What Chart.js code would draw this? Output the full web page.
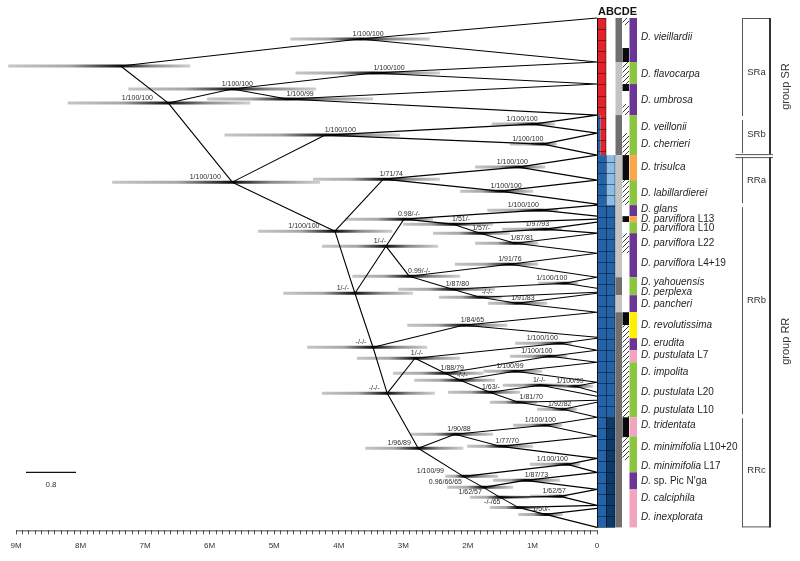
<!DOCTYPE html>
<html>
<head>
<meta charset="utf-8">
<script src="https://cdn.jsdelivr.net/npm/chart.js@4.4.1/dist/chart.umd.min.js"></script>
<style>
  html, body { margin: 0; padding: 0; background: #fff; }
  canvas { display: block; }
</style>
</head>
<body>
<canvas id="tree" width="800" height="561"></canvas>
<script>
// ---- data ----
// internal nodes: age (Ma), vertical row position, 95% HPD (old/young), support PP/ML/MP
const nodeIds  = ['root','vie','A','B','fla','umb','C','SRb','vei','che','RR','RRa','tri','lab','D','E','G','gla','I','J','p10','p22','H','p419','K','yah','Mm','pan','F','rev','M','L','eru','O','pu7','P','imp','Q','R','pu20','S','pu10','N','T','trd','m1020','U','m17','V','pic','W','cal','X','inx'];
const nodeAge  = [7.38,3.67,6.64,5.65,3.47,4.80,5.65,4.21,0.99,0.84,4.06,3.31,1.22,1.50,3.75,3.27,2.99,0.88,2.23,1.81,0.80,1.27,2.91,1.35,2.24,0.50,1.81,1.24,3.47,2.07,3.25,2.82,0.57,2.35,0.73,2.12,1.27,1.66,0.88,0.34,1.22,0.53,2.77,2.20,0.80,1.50,2.07,0.46,1.76,1.11,1.50,0.57,1.22,0.80];
const nodeRow  = [66,39,103,89,73,99,182,135,124,144,231,179,167,191,293,246,219,210,224,233,229,243,276,264,289,283,297,303,347,325,393,358,343,373,356,380,371,392,385,386,402,409,448,434,425,446,476,464,487,480,497,496,507,514];
const hpdOld   = [9.12,4.75,8.20,7.26,4.67,6.04,7.51,5.77,1.63,1.35,5.25,4.40,1.89,2.12,4.86,4.26,3.90,1.70,3.00,2.54,1.47,1.89,3.79,2.20,3.08,0.91,2.45,1.69,4.49,2.94,4.26,3.72,1.27,3.16,1.35,2.83,1.76,2.31,1.46,0.62,1.66,0.93,3.59,2.89,1.30,2.01,2.35,1.04,2.32,1.61,1.97,1.04,1.66,1.22];
const hpdYoung = [6.30,2.59,5.37,4.35,2.43,3.47,4.29,3.05,0.65,0.62,3.17,2.43,0.80,0.99,2.85,2.46,2.54,0.60,1.61,1.35,0.54,0.91,2.12,0.91,1.58,0.29,1.47,0.77,2.63,1.39,2.51,2.12,0.39,1.76,0.46,1.58,0.85,1.19,0.46,0.06,0.93,0.31,2.07,1.61,0.54,0.99,1.53,0.26,1.30,0.57,1.04,0.46,0.88,0.53];
const support  = ['','1/100/100','1/100/100','1/100/100','1/100/100','1/100/99','1/100/100','1/100/100','1/100/100','1/100/100','1/100/100','1/71/74','1/100/100','1/100/100','1/-/-','1/-/-','0.98/-/-','1/100/100','1/51/-','1/57/-','1/97/93','1/87/81','0.99/-/-','1/91/76','1/87/80','1/100/100','-/-/-','1/91/83','-/-/-','1/84/65','-/-/-','1/-/-','1/100/100','1/88/79','1/100/100','-/-/-','1/100/99','1/63/-','1/-/-','1/100/99','1/81/70','1/92/82','1/96/89','1/90/88','1/100/100','1/77/70','1/100/99','1/100/100','0.96/66/65','1/87/73','1/62/57','1/62/57','-/-/65','1/50/-'];

// branches between internal nodes
const branchParent = ['root','root','A','A','B','B','C','C','SRb','SRb','RR','RR','RRa','RRa','D','D','E','E','G','G','I','J','J','H','H','K','K','Mm','F','F','M','M','L','L','O','O','P','P','Q','Q','R','S','N','N','T','T','U','U','V','V','W','W','X'];
const branchChild  = ['vie','A','B','C','fla','umb','SRb','RR','vei','che','RRa','D','tri','lab','E','F','G','H','gla','I','J','p10','p22','p419','K','yah','Mm','pan','rev','M','L','N','eru','O','pu7','P','imp','Q','R','S','pu20','pu10','T','U','trd','m1020','m17','V','pic','W','cal','X','inx'];

// single-sample lineages reaching the present
const tipParent = ['I','Mm','R','S','X'];
const tipRow    = [219,292,396,400,505];

// collapsed species crowns (apex node, upper and lower tip rows at 0 Ma)
const cladeApex   = ['vie','fla','umb','vei','che','tri','lab','gla','p10','p22','p419','yah','pan','rev','eru','pu7','imp','pu20','pu10','trd','m1020','m17','pic','cal','inx'];
const cladeTop    = [18,62,84,115,133,155,180,205,222,233,253,277,293,312,338,350,362,382,402,417,436,458,472,489,508];
const cladeBottom = [62,84,115,133,155,180,204,216,233,253,277,288,312,337,350,362,382,392,417,436,458,472,489,505,527];

// taxa
const taxonName   = ['D. vieillardii','D. flavocarpa','D. umbrosa','D. veillonii','D. cherrieri','D. trisulca','D. labillardierei','D. glans','D. parviflora','D. parviflora','D. parviflora','D. parviflora','D. yahouensis','D. perplexa','D. pancheri','D. revolutissima','D. erudita','D. pustulata','D. impolita','D. pustulata','D. pustulata','D. tridentata','D. minimifolia','D. minimifolia','D.','D. calciphila','D. inexplorata'];
const taxonSuffix = ['','','','','','','','',' L13',' L10',' L22',' L4+19','','','','','',' L7','',' L20',' L10','',' L10+20',' L17',' sp. Pic N\'ga','',''];
const taxonRow    = [37,74,100,127,144,167,193,209,219,228,243,263,282,292,304,325,343,355,372,392,410,425,447,466,481,498,517];

// character columns A-E (segment start rows, state), all end at row 527
const columnEnd = 527;
const charAStart = [18,115,155];
const charAState = ['red','split','blue'];
const charBStart = [18,155,205,417];
const charBState = ['none','lightblue','blue','navy'];
const charCStart = [18,62,115,155,277,295,312];
const charCState = ['dark','light','dark','light','dark','light','dark'];
const charDStart = [18,25,48,62,84,91,104,115,133,155,180,205,216,222,233,253,312,325,417,437,460];
const charDState = ['hatch','white','black','hatch','black','white','hatch','white','hatch','black','hatch','white','black','white','hatch','white','black','hatch','black','hatch','white'];
const charEStart = [18,62,84,115,155,180,205,216,222,233,277,295,312,338,350,362,417,436,472,489];
const charEState = ['purple','green','purple','green','orange','green','purple','orange','green','purple','green','purple','yellow','purple','pink','green','pink','green','purple','pink'];

// groups
const subgroups      = ['SRa','SRb','RRa','RRb','RRc'];
const subgroupTop    = [18,118,155,205,416];
const subgroupLabel  = [72,134,180,300,470];
const groups         = ['group SR','group RR'];
const groupTop       = [18,155];
const groupBottom    = [155,527];

const axisMax = 9;          // Ma
const scaleBarText = '0.8';

// ---- styling ----
Chart.defaults.font.family = '"Liberation Sans", Arial, sans-serif';
const FONT = '"Liberation Sans", Arial, sans-serif';
const fills = {
  red: '#e3232b', blue: '#2463a8', lightblue: '#8cbde6', navy: '#0d3b69',
  dark: '#6f6f6f', light: '#c3c3c3', black: '#0a0a0a', white: '#ffffff',
  purple: '#6a3596', green: '#8cc63f', orange: '#f8a74a', yellow: '#fff200', pink: '#f4a4c0'
};
// horizontal nudge of each support label relative to its node (px)
const labelNudge = [0,8,-31,5,16,13,-27,15,-11,-15,-31,8,-6,6,-12,-6,5,-17,8,1,-8,7,10,0,5,-13,7,6,-12,9,-13,2,-18,7,-13,2,-5,1,-1,-5,13,-3,-19,4,-5,7,-33,-15,-38,11,-30,-6,-26,-4];

const idx = id => nodeIds.indexOf(id);

// tree branches as one dataset with gaps
const branchPts = [];
function seg(x1, y1, x2, y2) {
  branchPts.push({x: x1, y: y1}, {x: x2, y: y2}, {x: null, y: null});
}
branchParent.forEach((p, i) => {
  const a = idx(p), b = idx(branchChild[i]);
  seg(nodeAge[a], nodeRow[a], nodeAge[b], nodeRow[b]);
});
tipParent.forEach((p, i) => {
  const a = idx(p);
  seg(nodeAge[a], nodeRow[a], 0, tipRow[i]);
});
cladeApex.forEach((p, i) => {
  const a = idx(p);
  seg(nodeAge[a], nodeRow[a], 0, cladeTop[i]);
  seg(nodeAge[a], nodeRow[a], 0, cladeBottom[i]);
});

function hpdGradient(chart, i) {
  if (!chart.chartArea) return '#999';
  const sx = chart.scales.x;
  const a = sx.getPixelForValue(hpdOld[i]);
  const b = sx.getPixelForValue(hpdYoung[i]);
  const m = sx.getPixelForValue(nodeAge[i]);
  const g = chart.ctx.createLinearGradient(a, 0, b, 0);
  const f = Math.min(0.97, Math.max(0.03, (m - a) / (b - a)));
  g.addColorStop(0, '#c6c6c6');
  g.addColorStop(f * 0.55, '#a6a6a6');
  g.addColorStop(f, '#0d0d0d');
  g.addColorStop(f + (1 - f) * 0.45, '#8a8a8a');
  g.addColorStop(1, '#d0d0d0');
  return g;
}

const datasets = [{
  label: 'branches',
  data: branchPts,
  showLine: true,
  spanGaps: false,
  borderColor: '#000',
  borderWidth: 1.1,
  pointRadius: 0,
  order: 0
}];
nodeIds.forEach((id, i) => {
  datasets.push({
    label: 'hpd ' + id,
    data: [{x: hpdOld[i], y: nodeRow[i]}, {x: hpdYoung[i], y: nodeRow[i]}],
    showLine: true,
    borderWidth: 3,
    borderCapStyle: 'butt',
    borderColor: c => hpdGradient(c.chart, i),
    pointRadius: 0,
    order: 1
  });
});

let hatchPattern = null;
function getHatch(ctx) {
  if (hatchPattern) return hatchPattern;
  const c = document.createElement('canvas');
  c.width = 5; c.height = 5;
  const g = c.getContext('2d');
  g.fillStyle = '#fff'; g.fillRect(0, 0, 5, 5);
  g.strokeStyle = '#222'; g.lineWidth = 0.9;
  g.beginPath();
  g.moveTo(0, 5); g.lineTo(5, 0);
  g.moveTo(-1, 1); g.lineTo(1, -1);
  g.moveTo(4, 6); g.lineTo(6, 4);
  g.stroke();
  hatchPattern = ctx.createPattern(c, 'repeat');
  return hatchPattern;
}

function drawColumn(ctx, py, starts, states, x0, x1) {
  starts.forEach((s, i) => {
    const top = py(s);
    const bot = py(i + 1 < starts.length ? starts[i + 1] : columnEnd);
    const st = states[i];
    if (st === 'none') return;
    if (st === 'split') {
      ctx.fillStyle = fills.blue; ctx.fillRect(x0, top, 3.5, bot - top);
      ctx.fillStyle = fills.red; ctx.fillRect(x0 + 3.5, top, x1 - x0 - 3.5, bot - top);
      return;
    }
    ctx.fillStyle = st === 'hatch' ? getHatch(ctx) : fills[st];
    ctx.fillRect(x0, top, x1 - x0, bot - top);
  });
}

const annotate = {
  id: 'annotate',
  afterDatasetsDraw(chart) {
    const {ctx, scales: {x, y}, chartArea} = chart;
    const px = v => x.getPixelForValue(v);
    const py = r => y.getPixelForValue(r);
    const X0 = px(0);
    ctx.save();

    // support values
    ctx.font = '7px ' + FONT;
    ctx.fillStyle = '#2a2a2a';
    ctx.textAlign = 'center';
    ctx.textBaseline = 'alphabetic';
    support.forEach((s, i) => {
      if (!s) return;
      ctx.fillText(s, px(nodeAge[i]) + labelNudge[i], py(nodeRow[i]) - 3);
    });

    // character columns
    drawColumn(ctx, py, charAStart, charAState, X0, X0 + 9);
    drawColumn(ctx, py, charBStart, charBState, X0 + 9, X0 + 18);
    drawColumn(ctx, py, charCStart, charCState, X0 + 18.5, X0 + 25);
    drawColumn(ctx, py, charDStart, charDState, X0 + 25.5, X0 + 32);
    drawColumn(ctx, py, charEStart, charEState, X0 + 32.5, X0 + 40);

    // sample cells in A/B
    const top = py(18), bot = py(columnEnd), rr = py(155);
    const step = (bot - top) / 46;
    ctx.strokeStyle = 'rgba(0,0,0,0.55)';
    ctx.lineWidth = 0.8;
    ctx.beginPath();
    for (let k = 0; k <= 46; k++) {
      const yy = Math.round(top + k * step) + 0.5;
      ctx.moveTo(X0, yy);
      ctx.lineTo(yy > rr ? X0 + 18 : X0 + 9, yy);
    }
    ctx.moveTo(X0 + 9.5, rr); ctx.lineTo(X0 + 9.5, bot);
    ctx.moveTo(X0 + 18, rr); ctx.lineTo(X0 + 18, bot);
    ctx.moveTo(X0 + 9, top); ctx.lineTo(X0 + 9, rr);
    ctx.stroke();
    ctx.strokeStyle = '#111';
    ctx.lineWidth = 1;
    ctx.beginPath();
    ctx.moveTo(X0 + 0.5, top); ctx.lineTo(X0 + 0.5, bot);
    ctx.stroke();

    // header
    ctx.font = 'bold 11px ' + FONT;
    ctx.fillStyle = '#111';
    ctx.textAlign = 'center';
    ctx.textBaseline = 'middle';
    ctx.fillText('ABCDE', X0 + 20.5, py(12));

    // taxon names
    ctx.textAlign = 'left';
    ctx.fillStyle = '#1e1e1e';
    taxonName.forEach((n, i) => {
      const yy = py(taxonRow[i]);
      ctx.font = 'italic 10px ' + FONT;
      ctx.fillText(n, X0 + 44, yy);
      if (taxonSuffix[i]) {
        const w = ctx.measureText(n).width;
        ctx.font = '10px ' + FONT;
        ctx.fillText(taxonSuffix[i], X0 + 44 + w, yy);
      }
    });

    // group brackets
    const bx = X0 + 145.5, gx = X0 + 173;
    ctx.strokeStyle = '#555';
    ctx.lineWidth = 1;
    ctx.beginPath();
    subgroupTop.forEach((t, i) => {
      const end = i + 1 < subgroupTop.length ? subgroupTop[i + 1] : columnEnd;
      ctx.moveTo(bx, py(t) + (i ? 2 : 0));
      ctx.lineTo(bx, py(end) - (i + 1 < subgroupTop.length ? 2 : 0));
    });
    ctx.moveTo(bx, py(18) + 0.5); ctx.lineTo(gx, py(18) + 0.5);
    ctx.moveTo(bx, py(columnEnd) - 0.5); ctx.lineTo(gx, py(columnEnd) - 0.5);
    ctx.moveTo(bx - 7, py(154) + 0.5); ctx.lineTo(gx + 3, py(154) + 0.5);
    ctx.moveTo(bx - 7, py(157) + 0.5); ctx.lineTo(gx + 3, py(157) + 0.5);
    ctx.stroke();
    ctx.strokeStyle = '#333';
    ctx.lineWidth = 2;
    ctx.beginPath();
    groups.forEach((g, i) => {
      ctx.moveTo(gx, py(groupTop[i]) + (i ? 2 : 0));
      ctx.lineTo(gx, py(groupBottom[i]) - (i ? 0 : 1));
    });
    ctx.stroke();

    ctx.fillStyle = '#333';
    ctx.font = '9.5px ' + FONT;
    ctx.textAlign = 'center';
    subgroups.forEach((s, i) => ctx.fillText(s, bx + 14, py(subgroupLabel[i])));
    ctx.font = '11px ' + FONT;
    groups.forEach((g, i) => {
      ctx.save();
      ctx.translate(gx + 16, py((groupTop[i] + groupBottom[i]) / 2));
      ctx.rotate(-Math.PI / 2);
      ctx.fillText(g, 0, 0);
      ctx.restore();
    });

    // scale bar
    ctx.strokeStyle = '#111';
    ctx.lineWidth = 1.3;
    ctx.beginPath();
    ctx.moveTo(26, py(472)); ctx.lineTo(76, py(472));
    ctx.stroke();
    ctx.font = '8px ' + FONT;
    ctx.fillStyle = '#333';
    ctx.fillText(scaleBarText, 51, py(484));

    // time axis line
    ctx.strokeStyle = '#444';
    ctx.lineWidth = 1;
    ctx.beginPath();
    ctx.moveTo(px(axisMax), chartArea.bottom + 0.5);
    ctx.lineTo(X0, chartArea.bottom + 0.5);
    ctx.stroke();
    ctx.restore();
  }
};

new Chart(document.getElementById('tree'), {
  type: 'scatter',
  data: { datasets },
  options: {
    responsive: false,
    animation: false,
    devicePixelRatio: 1,
    layout: { padding: { left: 6, right: 3, top: 10, bottom: 3 } },
    plugins: { legend: { display: false }, tooltip: { enabled: false } },
    scales: {
      x: {
        type: 'linear',
        reverse: true,
        min: -3.098,
        max: 9.155,
        afterBuildTicks: s => {
          s.ticks = Array.from({length: axisMax * 10 + 1}, (_, i) => ({value: i / 10}));
        },
        ticks: {
          autoSkip: false,
          maxRotation: 0,
          padding: 7,
          color: '#333',
          font: { size: 8 },
          callback: v => {
            const t = Math.round(v * 10);
            if (t % 10 !== 0) return '';
            return t === 0 ? '0' : (t / 10) + 'M';
          }
        },
        grid: { display: true, drawOnChartArea: false, drawTicks: true, tickLength: 4, color: '#555' },
        border: { display: false }
      },
      y: { type: 'linear', reverse: true, min: 10, max: 530, display: false }
    }
  },
  plugins: [annotate]
});
</script>
</body>
</html>
